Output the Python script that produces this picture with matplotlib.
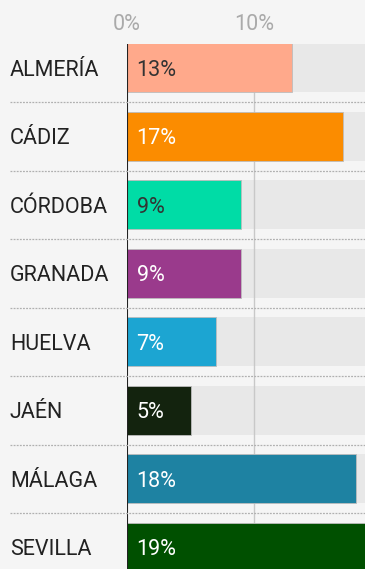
import matplotlib.pyplot as plt

provinces = ["ALMERÍA", "CÁDIZ", "CÓRDOBA", "GRANADA", "HUELVA", "JAÉN", "MÁLAGA", "SEVILLA"]
shares = [13, 17, 9, 9, 7, 5, 18, 19]
colors = ["#ffa98b", "#fb8c00", "#00dca6", "#9a3a8c", "#1ca5d2", "#13230e", "#1e82a2", "#005000"]
label_colors = ["#333333", "#ffffff", "#333333", "#ffffff", "#ffffff", "#ffffff", "#ffffff", "#ffffff"]
ticks = [0, 10]

plt.rcParams["font.family"] = ["Roboto", "DejaVu Sans"]

W, H = 365, 569
fig = plt.figure(figsize=(W / 100, H / 100), dpi=100)
fig.patch.set_facecolor("#f5f5f5")

# plot area: left edge at the zero line, top at the first bar
left, top = 127, 44
ax = fig.add_axes([left / W, 0, 1 - left / W, 1 - top / H])
ax.set_facecolor("#f5f5f5")
xmax = 18.74
row_h = 68.5
ax.set_xlim(0, xmax)
ax.set_ylim((H - top) / row_h - 0.35, -0.35)

ys = list(range(len(provinces)))
bar_h = 0.715
ax.barh(ys, [xmax] * len(ys), height=bar_h, color="#e8e8e8", zorder=1)
for t in ticks[1:]:
    ax.axvline(t, color="#c8c8c8", lw=1, zorder=2)
ax.barh(ys, shares, height=bar_h, color=colors, edgecolor="#bdbdbd", linewidth=0.6, zorder=3)
ax.axvline(0, color="#222222", lw=1.5, zorder=4)

fs = 15.5
for y, v, c in zip(ys, shares, label_colors):
    ax.text(0.75, y, f"{v}%", color=c, fontsize=fs, va="center_baseline", ha="left", zorder=5)

# row separators reaching into the label column
for y in ys[:-1]:
    yf = 1 - (top + (y + 0.5 + 0.35) * row_h) / H
    fig.add_artist(plt.Line2D([10 / W, 1], [yf, yf], transform=fig.transFigure,
                              color="#b0b0b0", lw=0.9, ls=(0, (1.5, 1)), zorder=6))

for y, name in zip(ys, provinces):
    yf = 1 - (top + (y + 0.35) * row_h) / H
    fig.text(10 / W, yf, name, color="#222222", fontsize=fs, va="center_baseline", ha="left")

for t in ticks:
    fig.text((left + t * (W - left) / xmax) / W, 1 - 22 / H, f"{t}%",
             color="#aaaaaa", fontsize=fs, va="center_baseline", ha="center")

ax.set_xticks([])
ax.set_yticks([])
for s in ax.spines.values():
    s.set_visible(False)

fig.savefig("out.png", dpi=100, facecolor=fig.get_facecolor())
